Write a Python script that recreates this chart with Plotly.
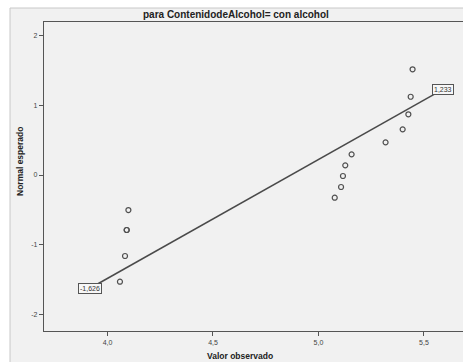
import plotly.graph_objects as go

# Observed values and their expected normal scores
observed = [4.059, 4.083, 4.091, 4.091, 4.099,
            5.077, 5.107, 5.116, 5.127, 5.157, 5.318, 5.399, 5.426, 5.437, 5.446]
expected = [-1.532, -1.163, -0.790, -0.790, -0.503,
            -0.326, -0.172, -0.014, 0.139, 0.297, 0.469, 0.656, 0.872, 1.124, 1.518]

# Reference line end points
line_x = [3.917, 5.592]
line_y = [-1.626, 1.233]

x_ticks = [4.0, 4.5, 5.0, 5.5]
x_tick_text = ["4,0", "4,5", "5,0", "5,5"]
y_ticks = [-2, -1, 0, 1, 2]
y_tick_text = ["-2", "-1", "0", "1", "2"]

title_text = "para ContenidodeAlcohol= con alcohol"
x_title = "Valor observado"
y_title = "Normal esperado"

W, H = 463, 362
L, R, T, B = 44, 0, 22, 31
plot_h = H - T - B

axis_col = "#555555"
ink = "#333333"
bold_font = "Liberation Sans, Arial, sans-serif"

fig = go.Figure()

fig.add_trace(go.Scatter(
    x=line_x, y=line_y, mode="lines",
    line=dict(color="#4a4a4a", width=1.5),
    hoverinfo="skip", showlegend=False,
))

fig.add_trace(go.Scatter(
    x=observed, y=expected, mode="markers",
    marker=dict(symbol="circle-open", size=5, color="#505050", line=dict(width=1.2)),
    showlegend=False,
))


def fmt(v):
    return f"{v:.3f}".replace(".", ",")


annotations = []
for lx, ly in zip(line_x, line_y):
    annotations.append(dict(
        x=lx, y=ly, xref="x", yref="y", text=fmt(ly), showarrow=False,
        font=dict(family="Liberation Sans, Arial", size=7, color=ink),
        bgcolor="#f7f7f7", bordercolor="#555555", borderwidth=1, borderpad=1,
    ))


def px_to_paper(px, py):
    return (px - L) / (W - L - R), (T + plot_h - py) / plot_h


tx, ty = px_to_paper(236, 14)
annotations.append(dict(
    x=tx, y=ty, xref="paper", yref="paper", xanchor="center", yanchor="middle",
    text=f"<b>{title_text}</b>", showarrow=False,
    font=dict(family=bold_font, size=10, color="#222222"),
))
tx, ty = px_to_paper(240, 356)
annotations.append(dict(
    x=tx, y=ty, xref="paper", yref="paper", xanchor="center", yanchor="middle",
    text=f"<b>{x_title}</b>", showarrow=False,
    font=dict(family=bold_font, size=8.5, color="#222222"),
))
tx, ty = px_to_paper(20, 162)
annotations.append(dict(
    x=tx, y=ty, xref="paper", yref="paper", xanchor="center", yanchor="middle",
    text=f"<b>{y_title}</b>", showarrow=False, textangle=-90,
    font=dict(family=bold_font, size=8.5, color="#222222"),
))

fx0, fy1 = px_to_paper(10, 8)
fig.update_layout(
    width=W, height=H,
    margin=dict(l=L, r=R, t=T, b=B, pad=0),
    paper_bgcolor="#ffffff",
    plot_bgcolor="#f1f1f1",
    annotations=annotations,
    shapes=[dict(
        type="rect", xref="paper", yref="paper",
        x0=fx0, x1=1.02, y0=-0.2, y1=fy1,
        line=dict(color="#c8c8c8", width=1), fillcolor="#f1f1f1", layer="below",
    )],
    font=dict(family="Liberation Sans, Arial", size=7, color=ink),
)

fig.update_xaxes(
    range=[3.699, 5.685], tickvals=x_ticks, ticktext=x_tick_text,
    showgrid=False, zeroline=False, showline=True, mirror=True,
    linecolor=axis_col, linewidth=1.3, ticks="outside", ticklen=4,
    tickcolor=axis_col, tickfont=dict(size=7, color="#444444"),
)
fig.update_yaxes(
    range=[-2.24, 2.197], tickvals=y_ticks, ticktext=y_tick_text,
    showgrid=False, zeroline=False, showline=True,
    linecolor=axis_col, linewidth=1.3, ticks="outside", ticklen=4,
    tickcolor=axis_col, tickfont=dict(size=7, color="#444444"),
)

fig.write_html("out.html")
